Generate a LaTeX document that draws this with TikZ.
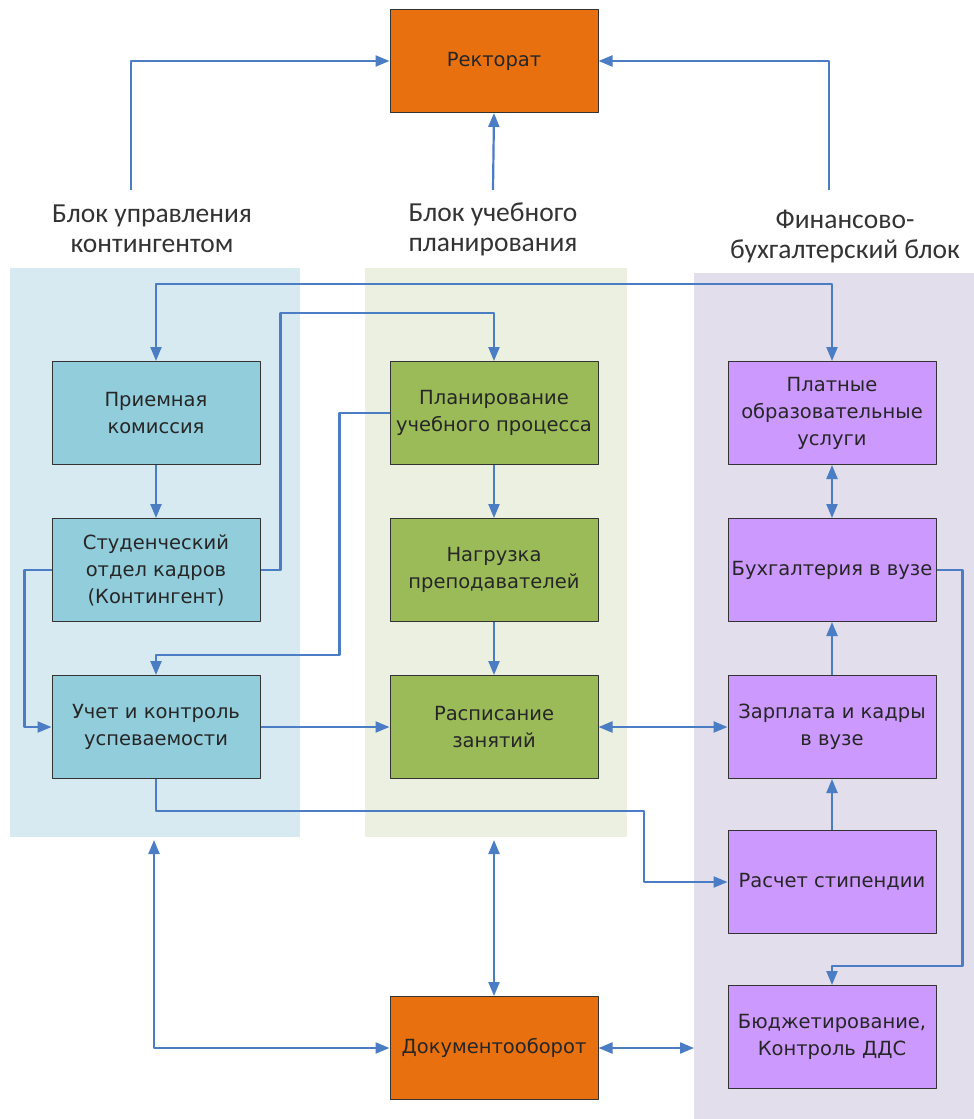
\documentclass[tikz,border=0pt]{standalone}
\usepackage{fontspec}
\setmainfont{DejaVu Sans}
\newfontfamily\blockfont{Carlito}
\usetikzlibrary{arrows.meta}
\definecolor{linkblue}{HTML}{4A7DC4}
\definecolor{bluebox}{HTML}{92CDDC}
\definecolor{greenbox}{HTML}{9BBB59}
\definecolor{violetbox}{HTML}{CC99FF}
\definecolor{orangebox}{HTML}{E8700F}
\definecolor{bluepanel}{HTML}{D7EAF1}
\definecolor{greenpanel}{HTML}{EBF0E0}
\definecolor{violetpanel}{HTML}{E2DEEB}
\begin{document}
\begin{tikzpicture}[x=1pt, y=-1pt, line join=round, >={Triangle[length=14pt,width=11pt]}]
			\tikzset{box/.style={draw=black!80, line width=1pt, minimum width=208pt, minimum height=103pt, inner sep=0pt, align=center, text=black!85, font=\fontsize{19.5}{27}\selectfont}}
			\tikzset{link/.style={draw=linkblue, line width=2.2pt}}
			\tikzset{blocklabel/.style={align=center, text=black!80, font=\blockfont\fontsize{27.5}{30}\selectfont}}
			\useasboundingbox (0,0) rectangle (974,1119);
			% panels
			\fill[bluepanel] (10,268) rectangle (300,837);
			\fill[greenpanel] (365,268) rectangle (627,837);
			\fill[violetpanel] (694,273) rectangle (974,1119);
			% boxes
			\node[box, fill=orangebox] (rektorat) at (494,61) {Ректорат};
			\node[box, fill=bluebox] (priem) at (156,413) {Приемная\\комиссия};
			\node[box, fill=bluebox] (stud) at (156,570) {Студенческий\\отдел кадров\\(Контингент)};
			\node[box, fill=bluebox] (uchet) at (156,727) {Учет и контроль\\успеваемости};
			\node[box, fill=greenbox] (plan) at (494,413) {Планирование\\учебного процесса};
			\node[box, fill=greenbox] (nagr) at (494,570) {Нагрузка\\преподавателей};
			\node[box, fill=greenbox] (rasp) at (494,727) {Расписание\\занятий};
			\node[box, fill=orangebox] (docs) at (494,1048) {Документооборот};
			\node[box, fill=violetbox] (platn) at (832,413) {Платные\\образовательные\\услуги};
			\node[box, fill=violetbox] (buh) at (832,570) {Бухгалтерия в вузе};
			\node[box, fill=violetbox] (zarp) at (832,727) {Зарплата и кадры\\в вузе};
			\node[box, fill=violetbox] (stip) at (832,882) {Расчет стипендии};
			\node[box, fill=violetbox] (budg) at (832,1037) {Бюджетирование,\\Контроль ДДС};
			% block titles
			\node[blocklabel] (lblkont) at (152,229) {Блок управления\\контингентом};
			\node[blocklabel] (lblplan) at (493,229) {Блок учебного\\планирования};
			\node[blocklabel] (lblfin) at (845,236) {Финансово-\\бухгалтерский блок};
			\coordinate (kontup) at (131,190);
			\coordinate (planup) at (493,190);
			\coordinate (finup) at (829,190);
			\coordinate (toprun) at (0,284);
			\coordinate (kontdoc) at (154,840);
			\coordinate (plandoc) at (494,840);
			\coordinate (findoc) at (694,1048);
			% links to Ректорат
			\draw[link,->] (kontup) |- (rektorat.west);
			\draw[link,->] (planup) -- (rektorat.south);
			\draw[link,->] (finup) |- (rektorat.east);
			% links inside the blocks
			\draw[link,<->] (priem.north) -- (priem.north |- toprun) -| (platn.north);
			\draw[link,->] (stud.east) -- ++(20,0) -- ++(0,-257) -| (plan.north);
			\draw[link,->] (plan.west) -- ++(-50,0) -- ++(0,242) -| (uchet.north);
			\draw[link,->] (stud.west) -- ++(-27,0) |- (uchet.west);
			\draw[link,->] (priem) -- (stud);
			\draw[link,->] (plan) -- (nagr);
			\draw[link,->] (nagr) -- (rasp);
			\draw[link,->] (uchet) -- (rasp);
			\draw[link,<->] (rasp) -- (zarp);
			\draw[link,->] (uchet.south) -- ++(0,32) -- ++(488,0) |- (stip.west);
			\draw[link,<->] (platn) -- (buh);
			\draw[link,->] (zarp) -- (buh);
			\draw[link,->] (stip) -- (zarp);
			\draw[link,->] (buh.east) -- ++(26,0) -- ++(0,396) -| (budg.north);
			% Документооборот
			\draw[link,<->] (kontdoc) |- (docs.west);
			\draw[link,<->] (plandoc) -- (docs.north);
			\draw[link,<->] (docs.east) -- (findoc);
		\end{tikzpicture}
\end{document}
